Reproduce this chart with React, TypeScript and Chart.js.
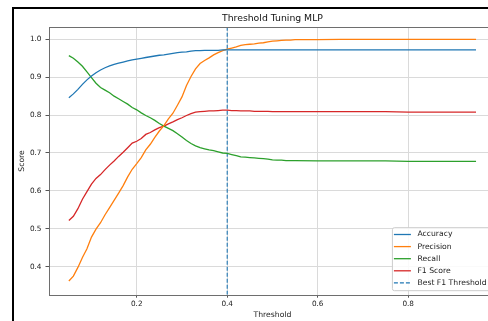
import React, { useEffect, useRef } from "react";
import { Chart, registerables } from "chart.js";

Chart.register(...registerables);

const chartTitle = "Threshold Tuning MLP";
const xLabel = "Threshold";
const yLabel = "Score";

const thresholds = [
  0.05, 0.06, 0.07, 0.08, 0.09, 0.1, 0.11, 0.12, 0.13, 0.14,
  0.15, 0.16, 0.17, 0.18, 0.19, 0.2, 0.21, 0.22, 0.23, 0.24,
  0.25, 0.26, 0.27, 0.28, 0.29, 0.3, 0.31, 0.32, 0.33, 0.34,
  0.35, 0.36, 0.37, 0.38, 0.39, 0.4, 0.41, 0.42, 0.43, 0.44,
  0.45, 0.46, 0.47, 0.48, 0.49, 0.5, 0.51, 0.52, 0.53, 0.54,
  0.55, 0.6, 0.65, 0.7, 0.75, 0.8, 0.85, 0.9, 0.95,
];

const accuracy = [
  0.846, 0.856, 0.868, 0.881, 0.893, 0.903, 0.912, 0.919, 0.925, 0.93,
  0.934, 0.937, 0.94, 0.943, 0.946, 0.948, 0.95, 0.952, 0.954, 0.956,
  0.958, 0.959, 0.961, 0.963, 0.965, 0.966, 0.967, 0.969, 0.97, 0.97,
  0.971, 0.971, 0.971, 0.971, 0.972, 0.972, 0.972, 0.972, 0.972, 0.972,
  0.972, 0.972, 0.972, 0.972, 0.972, 0.972, 0.972, 0.972, 0.972, 0.972,
  0.972, 0.972, 0.972, 0.972, 0.972, 0.972, 0.972, 0.972, 0.972,
];

const precision = [
  0.362, 0.375, 0.398, 0.424, 0.447, 0.478, 0.499, 0.516, 0.537, 0.556,
  0.575, 0.594, 0.614, 0.637, 0.657, 0.672, 0.688, 0.708, 0.723, 0.741,
  0.758, 0.772, 0.79, 0.805, 0.826, 0.848, 0.878, 0.902, 0.922, 0.936,
  0.944, 0.951, 0.959, 0.965, 0.97, 0.974, 0.977, 0.98, 0.984, 0.986,
  0.987, 0.988, 0.99, 0.991, 0.993, 0.995, 0.996, 0.997, 0.998, 0.998,
  0.999, 0.999, 1.0, 1.0, 1.0, 1.0, 1.0, 1.0, 1.0,
];

const recall = [
  0.957, 0.95, 0.94, 0.929, 0.914, 0.899, 0.884, 0.873, 0.866, 0.859,
  0.85, 0.843, 0.836, 0.829, 0.82, 0.814, 0.806, 0.799, 0.793, 0.786,
  0.778, 0.771, 0.765, 0.759, 0.751, 0.742, 0.733, 0.725, 0.719, 0.714,
  0.711, 0.708, 0.706, 0.703, 0.7, 0.699, 0.696, 0.693, 0.69, 0.689,
  0.688, 0.687, 0.686, 0.685, 0.684, 0.682, 0.681, 0.681, 0.68, 0.68,
  0.68, 0.679, 0.679, 0.679, 0.679, 0.678, 0.678, 0.678, 0.678,
];

const f1Score = [
  0.522, 0.533, 0.553, 0.578, 0.598, 0.618, 0.633, 0.643, 0.656, 0.668,
  0.679, 0.691, 0.702, 0.714, 0.726, 0.731, 0.738, 0.749, 0.754, 0.761,
  0.767, 0.771, 0.777, 0.782, 0.788, 0.793, 0.799, 0.804, 0.808, 0.809,
  0.81, 0.811, 0.811, 0.812, 0.813, 0.813, 0.812, 0.812, 0.811, 0.811,
  0.811, 0.81, 0.81, 0.81, 0.81, 0.809, 0.809, 0.809, 0.809, 0.809,
  0.809, 0.809, 0.809, 0.809, 0.809, 0.808, 0.808, 0.808, 0.808,
];

const bestThreshold = 0.4;

const xTicks = [0.2, 0.4, 0.6, 0.8];
const yTicks = [0.4, 0.5, 0.6, 0.7, 0.8, 0.9, 1.0];
const xRange = [0.005, 0.995];
const yRange = [0.326, 1.032];

const seriesLabels = ["Accuracy", "Precision", "Recall", "F1 Score", "Best F1 Threshold"];
const seriesColors = ["#1f77b4", "#ff7f0e", "#2ca02c", "#d62728", "#1f77b4"];

const FONT = "'DejaVu Sans', sans-serif";

const titlePlugin = {
  id: "mplTitle",
  afterDraw(chart: any) {
    const { ctx, chartArea } = chart;
    ctx.save();
    ctx.font = `9.3px ${FONT}`;
    ctx.fillStyle = "#111";
    ctx.textAlign = "center";
    ctx.textBaseline = "middle";
    ctx.fillText(chartTitle, (chartArea.left + chartArea.right) / 2, chartArea.top - 8.2);
    ctx.restore();
  },
};

const spinePlugin = {
  id: "spines",
  afterDatasetsDraw(chart: any) {
    const { ctx, chartArea } = chart;
    ctx.save();
    ctx.strokeStyle = "#6e6e6e";
    ctx.lineWidth = 1;
    ctx.strokeRect(
      Math.round(chartArea.left) + 0.5,
      Math.round(chartArea.top) + 0.5,
      Math.round(chartArea.right - chartArea.left),
      Math.round(chartArea.bottom - chartArea.top)
    );
    ctx.restore();
  },
};

const legendPlugin = {
  id: "mplLegend",
  afterDraw(chart: any) {
    const { ctx, chartArea } = chart;
    const x0 = chartArea.right - 104.5;
    const y0 = chartArea.bottom - 67.5;
    const w = 130;
    const h = 63;
    ctx.save();
    ctx.beginPath();
    (ctx as any).roundRect(x0 + 0.5, y0 + 0.5, w, h, 2);
    ctx.fillStyle = "rgba(255,255,255,0.85)";
    ctx.fill();
    ctx.strokeStyle = "#cccccc";
    ctx.lineWidth = 1;
    ctx.stroke();
    ctx.font = `7.7px ${FONT}`;
    ctx.textBaseline = "middle";
    ctx.textAlign = "left";
    chart.data.datasets.forEach((ds: any, i: number) => {
      const y = y0 + 7.3 + i * 12.1;
      ctx.beginPath();
      ctx.strokeStyle = ds.borderColor;
      ctx.lineWidth = 1.3;
      ctx.setLineDash(ds.borderDash || []);
      ctx.moveTo(x0 + 2, y);
      ctx.lineTo(x0 + 19, y);
      ctx.stroke();
      ctx.setLineDash([]);
      ctx.fillStyle = "#222";
      ctx.fillText(ds.label, x0 + 25.5, y);
    });
    ctx.restore();
  },
};

export default function App() {
  const ref = useRef<HTMLCanvasElement>(null);

  useEffect(() => {
    if (!ref.current) return;
    const series = [accuracy, precision, recall, f1Score];
    const datasets: any[] = series.map((arr, i) => ({
      label: seriesLabels[i],
      data: thresholds.map((t, j) => ({ x: t, y: arr[j] })),
      borderColor: seriesColors[i],
      backgroundColor: seriesColors[i],
      borderWidth: 1.3,
      pointRadius: 0,
      tension: 0,
      fill: false,
    }));
    datasets.push({
      label: seriesLabels[4],
      data: [
        { x: bestThreshold, y: yRange[0] },
        { x: bestThreshold, y: yRange[1] },
      ],
      borderColor: seriesColors[4],
      backgroundColor: seriesColors[4],
      borderWidth: 1.1,
      borderDash: [4, 2],
      pointRadius: 0,
      fill: false,
    });

    const chart = new Chart(ref.current, {
      type: "line",
      data: { datasets },
      plugins: [spinePlugin, legendPlugin, titlePlugin],
      options: {
        animation: false,
        responsive: false,
        devicePixelRatio: 1,
        layout: { padding: { left: 0, top: 27.2, right: 23.6, bottom: 5.3 } },
        plugins: {
          legend: { display: false },
          tooltip: { enabled: false },
          title: { display: false },
        },
        scales: {
          x: {
            type: "linear",
            min: xRange[0],
            max: xRange[1],
            afterBuildTicks: (axis: any) => {
              axis.ticks = xTicks.map((v) => ({ value: v }));
            },
            afterFit: (axis: any) => {
              axis.height = 30;
            },
            ticks: {
              color: "#222",
              font: { family: FONT, size: 7.3 },
              padding: 2.3,
              maxRotation: 0,
              callback: (v: any) => Number(v).toFixed(1),
            },
            grid: { color: "#dadada", lineWidth: 1, tickLength: 3, tickColor: "#555" },
            border: { display: false },
            title: {
              display: true,
              text: xLabel,
              color: "#222",
              font: { family: FONT, size: 7.7, lineHeight: 1.2 },
              padding: { top: 0, bottom: 5.1 },
            },
          },
          y: {
            type: "linear",
            min: yRange[0],
            max: yRange[1],
            afterBuildTicks: (axis: any) => {
              axis.ticks = yTicks.map((v) => ({ value: v }));
            },
            afterFit: (axis: any) => {
              axis.width = 48.5;
            },
            ticks: {
              color: "#222",
              font: { family: FONT, size: 7.3 },
              padding: 4,
              callback: (v: any) => Number(v).toFixed(1),
            },
            grid: { color: "#dadada", lineWidth: 1, tickLength: 3, tickColor: "#555" },
            border: { display: false },
            title: {
              display: true,
              text: yLabel,
              color: "#222",
              font: { family: FONT, size: 7.7, lineHeight: 1.2 },
              padding: { top: 17.4, bottom: 0 },
            },
          },
        },
      },
    });
    return () => chart.destroy();
  }, []);

  return (
    <div
      style={{
        position: "fixed",
        left: 0,
        top: 0,
        width: 488,
        height: 321,
        overflow: "hidden",
        background: "#fff",
      }}
    >
      <canvas
        ref={ref}
        width={520}
        height={330}
        style={{ position: "absolute", left: 0, top: 0, width: 520, height: 330 }}
      />
      <div
        style={{
          position: "absolute",
          left: 12,
          top: 7,
          width: 600,
          height: 400,
          border: "2px solid #000",
          pointerEvents: "none",
        }}
      />
    </div>
  );
}
